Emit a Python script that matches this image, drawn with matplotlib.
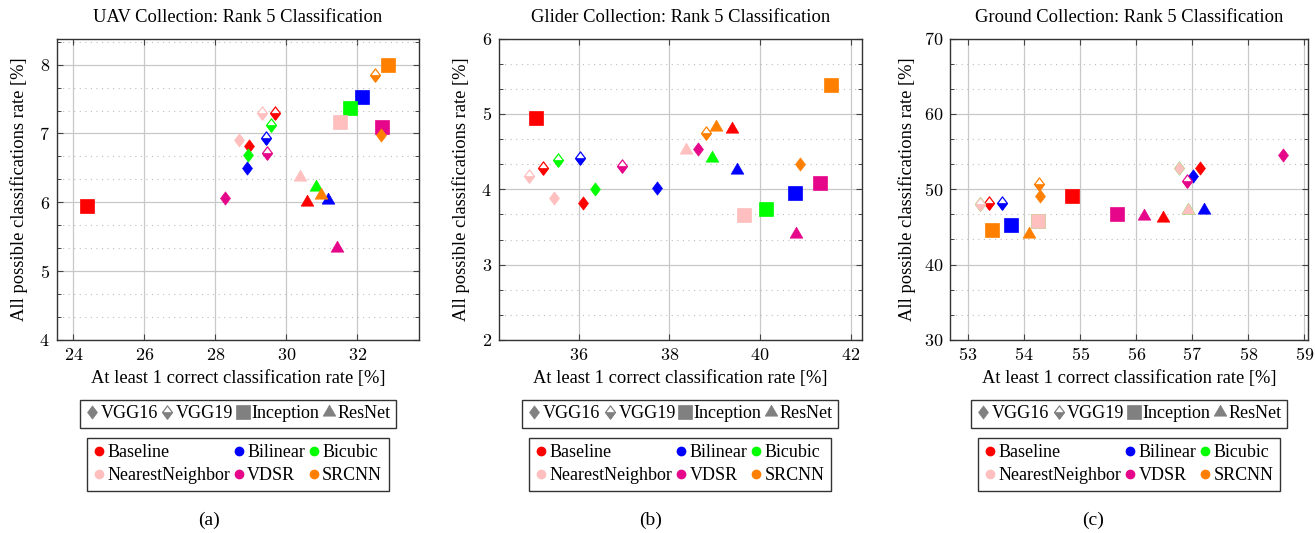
import matplotlib
matplotlib.use("Agg")
import matplotlib.pyplot as plt
from matplotlib.path import Path
from matplotlib.markers import MarkerStyle
from matplotlib.lines import Line2D
from matplotlib.legend_handler import HandlerTuple
from matplotlib.ticker import MultipleLocator, FuncFormatter

plt.rcParams['font.family'] = ['Liberation Serif', 'DejaVu Serif']
plt.rcParams['mathtext.fontset'] = 'cm'

methods = ['Baseline', 'Bilinear', 'Bicubic', 'NearestNeighbor', 'VDSR', 'SRCNN']
method_colors = ['#ff0000', '#0000ff', '#00ff00', '#ffbfbf', '#e6068a', '#ff8000']
models = ['VGG16', 'VGG19', 'Inception', 'ResNet']

titles = ['UAV Collection: Rank 5 Classification',
          'Glider Collection: Rank 5 Classification',
          'Ground Collection: Rank 5 Classification']
captions = ['(a)', '(b)', '(c)']
xlabel = 'At least 1 correct classification rate [%]'
ylabel = 'All possible classifications rate [%]'

# ---- (a) UAV ----
uav_vgg16_x = [28.96, 28.90, 28.93, 28.66, 28.28, 32.66]
uav_vgg16_y = [6.82, 6.50, 6.69, 6.90, 6.06, 6.98]
uav_vgg19_x = [29.68, 29.44, 29.56, 29.32, 29.46, 32.50]
uav_vgg19_y = [7.30, 6.93, 7.13, 7.30, 6.71, 7.85]
uav_incep_x = [24.38, 32.12, 31.79, 31.51, 32.69, 32.88]
uav_incep_y = [5.94, 7.53, 7.37, 7.16, 7.09, 8.00]
uav_resnet_x = [30.59, 31.17, 30.84, 30.38, 31.44, 30.97]
uav_resnet_y = [6.01, 6.04, 6.22, 6.37, 5.33, 6.11]

# ---- (b) Glider ----
gli_vgg16_x = [36.10, 37.72, 36.37, 35.45, 38.64, 40.87]
gli_vgg16_y = [3.82, 4.02, 4.00, 3.88, 4.54, 4.33]
gli_vgg19_x = [35.22, 36.03, 35.54, 34.91, 36.96, 38.81]
gli_vgg19_y = [4.28, 4.41, 4.39, 4.17, 4.31, 4.74]
gli_incep_x = [35.07, 40.77, 40.13, 39.65, 41.33, 41.56]
gli_incep_y = [4.95, 3.95, 3.74, 3.66, 4.08, 5.38]
gli_resnet_x = [39.38, 39.49, 38.94, 38.36, 40.79, 39.02]
gli_resnet_y = [4.80, 4.26, 4.41, 4.52, 3.40, 4.82]

# ---- (c) Ground ----
gro_vgg16_x = [57.13, 57.01, 56.77, 56.77, 58.62, 54.28]
gro_vgg16_y = [52.81, 51.75, 52.81, 52.81, 54.58, 49.05]
gro_vgg19_x = [53.37, 53.60, 53.22, 53.22, 56.91, 54.26]
gro_vgg19_y = [48.16, 48.21, 48.07, 48.07, 51.09, 50.64]
gro_incep_x = [54.85, 53.77, 54.25, 54.25, 55.66, 53.43]
gro_incep_y = [49.09, 45.28, 45.73, 45.73, 46.74, 44.62]
gro_resnet_x = [56.47, 57.21, 56.92, 56.92, 56.14, 54.08]
gro_resnet_y = [46.25, 47.27, 47.27, 47.27, 46.51, 44.03]

panels = [
    dict(data=[(uav_vgg16_x, uav_vgg16_y), (uav_vgg19_x, uav_vgg19_y),
               (uav_incep_x, uav_incep_y), (uav_resnet_x, uav_resnet_y)],
         xlim=(23.53, 33.74), ylim=(4, 8.38), xstep=2, ystep=1),
    dict(data=[(gli_vgg16_x, gli_vgg16_y), (gli_vgg19_x, gli_vgg19_y),
               (gli_incep_x, gli_incep_y), (gli_resnet_x, gli_resnet_y)],
         xlim=(34.24, 42.24), ylim=(2, 6), xstep=2, ystep=1),
    dict(data=[(gro_vgg16_x, gro_vgg16_y), (gro_vgg19_x, gro_vgg19_y),
               (gro_incep_x, gro_incep_y), (gro_resnet_x, gro_resnet_y)],
         xlim=(52.68, 59.07), ylim=(30, 70), xstep=1, ystep=10),
]

# marker shapes
diamond = MarkerStyle(Path([(0, 1), (0.75, 0), (0, -1), (-0.75, 0), (0, 1)], closed=True))
half_diamond = MarkerStyle(Path([(-0.75, 0), (0.75, 0), (0, -1), (-0.75, 0)], closed=True))
triangle = MarkerStyle(Path([(0, 1), (-0.866, -0.5), (0.866, -0.5), (0, 1)], closed=True))
D_MS, S_MS, T_MS = 9.5, 9.5, 10.5

W, H = 1315, 533
fig = plt.figure(figsize=(W / 100, H / 100), dpi=100)

axes_px = [(56.7, 419.0), (498.7, 861.7), (950.0, 1308.3)]
top_px, bot_px = 38.5, 340.0
caption_x = [209, 651, 1093]
ylabel_x_px = [19.5, 461.5, 906.5]

fmt = FuncFormatter(lambda v, p: f'${v:g}$')


def draw_point(ax, model_idx, x, y, c):
    if model_idx == 0:
        ax.plot(x, y, ls='None', marker=diamond, ms=D_MS, mfc=c, mec=c, mew=0.5)
    elif model_idx == 1:
        ax.plot(x, y, ls='None', marker=diamond, ms=D_MS, mfc='white', mec=c, mew=0.9)
        ax.plot(x, y, ls='None', marker=half_diamond, ms=D_MS, mfc=c, mec=c, mew=0.5)
    elif model_idx == 2:
        ax.plot(x, y, ls='None', marker='s', ms=S_MS, mfc=c, mec=c, mew=0.5)
    else:
        ax.plot(x, y, ls='None', marker=triangle, ms=T_MS, mfc=c, mec=c, mew=0.5)


for i, (p, (l, r)) in enumerate(zip(panels, axes_px)):
    ax = fig.add_axes([l / W, (H - bot_px) / H, (r - l) / W, (bot_px - top_px) / H])
    ax.set_xlim(*p['xlim'])
    ax.set_ylim(*p['ylim'])
    ax.xaxis.set_major_locator(MultipleLocator(p['xstep']))
    ax.yaxis.set_major_locator(MultipleLocator(p['ystep']))
    ax.yaxis.set_minor_locator(MultipleLocator(p['ystep'] / 3))
    ax.xaxis.set_major_formatter(fmt)
    ax.yaxis.set_major_formatter(fmt)
    ax.grid(True, which='major', color='#c8c8c8', lw=0.9)
    ax.grid(True, which='minor', axis='y', color='#bdbdbd', lw=0.8, ls=(0, (1, 4)))
    ax.set_axisbelow(True)
    ax.tick_params(which='both', direction='in', top=True, right=True,
                   color='#444444', labelsize=13, pad=5)
    ax.tick_params(which='major', length=4, width=0.8)
    ax.tick_params(which='minor', length=3, width=0.7)
    for s in ax.spines.values():
        s.set_color('#333333')
        s.set_linewidth(1.0)

    # draw order: method by method, each through all four models
    for j, c in enumerate(method_colors):
        for m, (xs, ys) in enumerate(p['data']):
            draw_point(ax, m, xs[j], ys[j], c)

    ax.set_title(titles[i], fontsize=13.3, pad=12)
    ax.set_xlabel(xlabel, fontsize=13.3)
    ax.xaxis.set_label_coords(0.5, (bot_px - 370) / (bot_px - top_px))
    ax.xaxis.label.set_va('top')
    ax.set_ylabel(ylabel, fontsize=13.3)
    ax.yaxis.set_label_coords((ylabel_x_px[i] + 9 - l) / (r - l), 0.5)

    # legends
    gray = '#808080'
    h16 = Line2D([], [], ls='None', marker=diamond, ms=D_MS, mfc=gray, mec=gray, mew=0.5)
    h19a = Line2D([], [], ls='None', marker=diamond, ms=D_MS, mfc='white', mec=gray, mew=0.9)
    h19b = Line2D([], [], ls='None', marker=half_diamond, ms=D_MS, mfc=gray, mec=gray, mew=0.5)
    hin = Line2D([], [], ls='None', marker='s', ms=S_MS, mfc=gray, mec=gray, mew=0.5)
    hre = Line2D([], [], ls='None', marker=triangle, ms=T_MS, mfc=gray, mec=gray, mew=0.5)
    cx = ((l + r) / 2) / W
    leg1 = fig.legend([h16, (h19a, h19b), hin, hre], models, ncol=4,
                      loc='upper center', bbox_to_anchor=(cx, (H - 400) / H),
                      bbox_transform=fig.transFigure, fontsize=13,
                      handler_map={tuple: HandlerTuple(ndivide=1)},
                      frameon=True, fancybox=False, edgecolor='#333333',
                      framealpha=1, handlelength=0.75, handletextpad=0.1,
                      columnspacing=0.15, borderpad=0.3, borderaxespad=0)
    leg1.get_frame().set_linewidth(1.0)

    order = [0, 3, 1, 4, 2, 5]
    mh = [Line2D([], [], ls='None', marker='o', ms=6, mfc=method_colors[k],
                 mec=method_colors[k]) for k in order]
    ml = [methods[k] for k in order]
    leg2 = fig.legend(mh, ml, ncol=3, loc='upper center',
                      bbox_to_anchor=(cx, (H - 437.5) / H),
                      bbox_transform=fig.transFigure, fontsize=13,
                      frameon=True, fancybox=False, edgecolor='#333333',
                      framealpha=1, handlelength=0.6, handletextpad=0.15,
                      columnspacing=0.2, borderpad=0.38, labelspacing=0.32,
                      borderaxespad=0)
    leg2.get_frame().set_linewidth(1.0)

    fig.text(caption_x[i] / W, (H - 520) / H, captions[i], ha='center',
             va='center', fontsize=14)

fig.savefig('out.png', dpi=100)
